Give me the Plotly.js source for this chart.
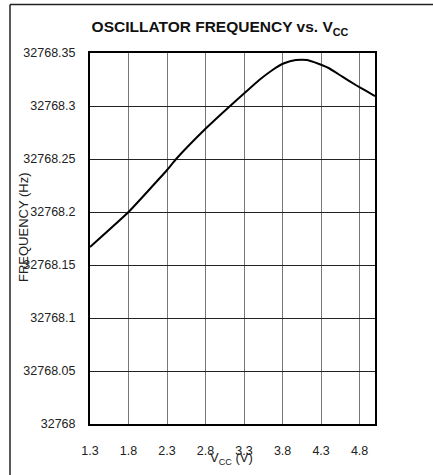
<!DOCTYPE html>
<html>
<head>
<meta charset="utf-8">
<script src="https://cdn.plot.ly/plotly-3.0.1.min.js"></script>
<style>
html,body{margin:0;padding:0;background:#fff;}
#chart{width:433px;height:475px;}
</style>
</head>
<body>
<div id="chart"></div>
<script>
// Data
const vcc = [1.3, 1.8, 2.3, 2.418, 2.806, 3.108, 3.303, 3.497, 3.669, 3.82, 3.972, 4.12, 4.274, 4.404, 4.576, 4.75, 4.879, 5.0];
const freq = [32768.167, 32768.200, 32768.2396, 32768.250, 32768.279, 32768.2994, 32768.312, 32768.3245, 32768.334, 32768.3403, 32768.3434, 32768.3434, 32768.3396, 32768.3356, 32768.3277, 32768.3198, 32768.3144, 32768.3094];
const xTickVals = [1.3, 1.8, 2.3, 2.8, 3.3, 3.8, 4.3, 4.8];
const xTickText = ["1.3", "1.8", "2.3", "2.8", "3.3", "3.8", "4.3", "4.8"];
const yTickVals = [32768, 32768.05, 32768.1, 32768.15, 32768.2, 32768.25, 32768.3, 32768.35];
const yTickText = ["32768", "32768.05", "32768.1", "32768.15", "32768.2", "32768.25", "32768.3", "32768.35"];

const FONT = "'Liberation Sans', Arial, sans-serif";
const W = 433, H = 475;
const M = {l: 90, r: 58, t: 53, b: 51};
const pw = W - M.l - M.r, ph = H - M.t - M.b;
const px = x => (x - M.l) / pw;
const py = y => (H - M.b - y) / ph;

const trace = {
  x: vcc, y: freq, type: 'scatter', mode: 'lines',
  line: {color: '#000', width: 2, shape: 'spline', smoothing: 0.4},
  hoverinfo: 'skip'
};

const layout = {
  width: W, height: H,
  margin: M,
  paper_bgcolor: '#fff', plot_bgcolor: '#fff',
  showlegend: false,
  font: {family: FONT, size: 12.5, color: '#222'},
  title: {
    text: 'OSCILLATOR FREQUENCY vs. V<sub>CC</sub>',
    font: {family: FONT, size: 15.5, color: '#111', weight: 'bold'},
    xref: 'container', x: 220 / W, xanchor: 'center',
    yref: 'container', y: 1 - 27 / H, yanchor: 'middle'
  },
  xaxis: {
    range: [1.3, 5.0],
    tickvals: xTickVals, ticktext: xTickText,
    showgrid: true, gridcolor: '#777', gridwidth: 1,
    showline: true, linecolor: '#000', linewidth: 2, mirror: true,
    zeroline: false, ticks: '',
    ticklabelstandoff: 14,
    tickfont: {family: FONT, size: 12.5, color: '#222'},
    fixedrange: true
  },
  yaxis: {
    range: [32768, 32768.35],
    tickvals: yTickVals, ticktext: yTickText,
    showgrid: true, gridcolor: '#222', gridwidth: 1,
    showline: true, linecolor: '#000', linewidth: 2, mirror: true,
    zeroline: false, ticks: '',
    ticklabelstandoff: 10,
    tickfont: {family: FONT, size: 12.5, color: '#222'},
    fixedrange: true
  },
  annotations: [
    {
      text: 'V<sub>CC</sub> (V)', xref: 'paper', yref: 'paper',
      x: px(231), y: py(458), xanchor: 'center', yanchor: 'middle',
      showarrow: false, font: {family: FONT, size: 13, color: '#222'}
    },
    {
      text: 'FREQUENCY (Hz)', xref: 'paper', yref: 'paper',
      x: px(24), y: py(227), xanchor: 'center', yanchor: 'middle',
      textangle: -90, showarrow: false, font: {family: FONT, size: 13, color: '#222'}
    }
  ],
  shapes: [
    {type: 'line', xref: 'paper', yref: 'paper', x0: px(10), x1: px(433), y0: py(4.5), y1: py(4.5), line: {color: '#222', width: 1.5}},
    {type: 'line', xref: 'paper', yref: 'paper', x0: px(10), x1: px(10), y0: py(4.5), y1: py(475), line: {color: '#222', width: 1.5}}
  ]
};

Plotly.newPlot('chart', [trace], layout, {displayModeBar: false, staticPlot: true});
</script>
</body>
</html>
